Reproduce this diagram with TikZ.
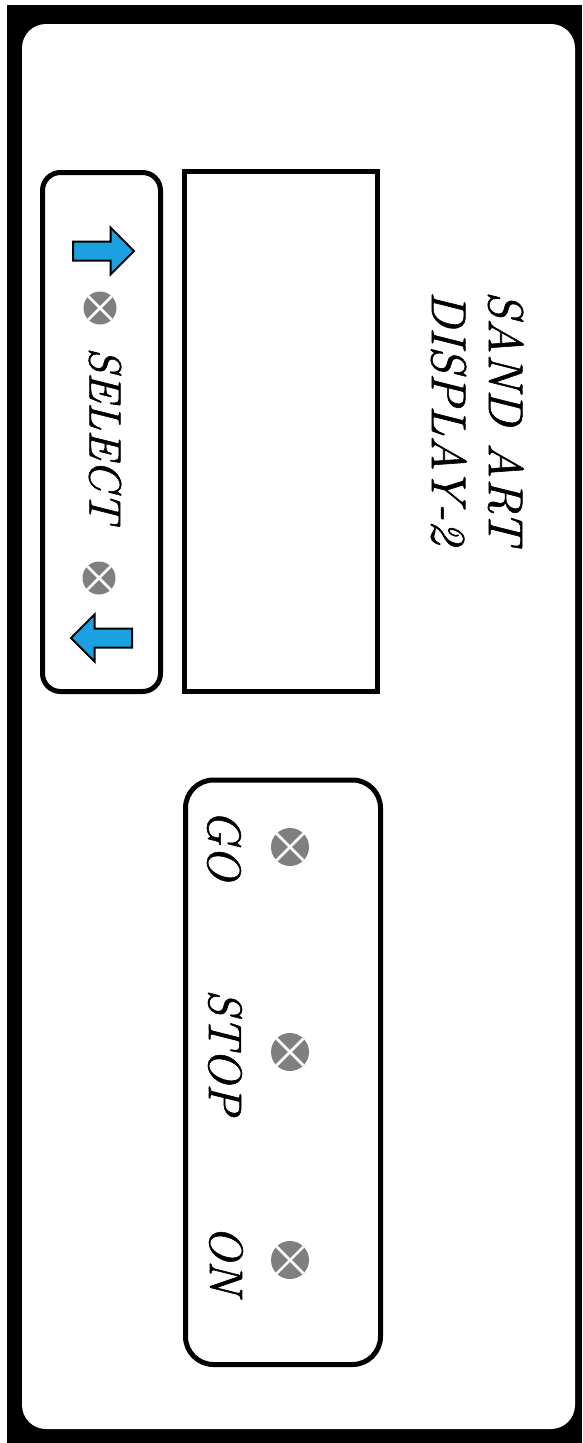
\documentclass[tikz,border=0pt]{standalone}
\usepackage{fontspec}
\usetikzlibrary{shapes.arrows}

\newfontfamily\panelfont{Latin Modern Roman}[FakeBold=1.2]
\definecolor{panelblue}{HTML}{1BA1E2}
\definecolor{ledgray}{HTML}{7F7F7F}

\begin{document}
\begin{tikzpicture}[
        x=1pt, y=-1pt,
        panelbox/.style={draw=black, line width=5pt},
        paneltext/.style={rotate=-90, inner sep=0pt},
        led/.style={circle, fill=ledgray, inner sep=0pt, minimum size=#1,
            path picture={
                \draw[white, line width=2.5pt]
                    (path picture bounding box.north west) -- (path picture bounding box.south east)
                    (path picture bounding box.north east) -- (path picture bounding box.south west);
            }},
        led/.default=33pt,
        selarrow/.style={single arrow, draw=black, line width=2pt, fill=panelblue,
            inner xsep=0pt, inner ysep=8.5pt, single arrow head extend=14pt,
            minimum height=61pt, anchor=tail},
        ]
        \useasboundingbox (0,0) rectangle (582,1443);
        \fill[white] (0,0) rectangle (582,1443);

        % Frame
        \fill[black] (7,5) rectangle (582,1443);
        \fill[white, rounded corners=24pt] (22,24) rectangle (575,1429);

        % Select panel
        \draw[panelbox, rounded corners=18pt] (42.5,172.5) rectangle (160.5,691.5);
        \node[selarrow] (upArrow) at (72,251) {};
        \node[selarrow, shape border rotate=180] (downArrow) at (133,638) {};
        \node[led] (selUpLed) at (100,308) {};
        \node[led] (selDownLed) at (99,578) {};
        \node[paneltext, font=\fontsize{45}{50}\selectfont\panelfont\itshape] (selectText) at (105,435) {SELECT};

        % Display window
        \draw[panelbox] (184.5,171.5) rectangle (377.5,691.5);

        % Title
        \node[paneltext, anchor=north west, align=left,
            font=\fontsize{49}{57}\selectfont\panelfont\itshape] (title) at (524,291) {SAND ART\\DISPLAY-2};

        % Control panel
        \draw[panelbox, rounded corners=28pt] (185.5,780) rectangle (380.5,1364.5);
        \node[paneltext, font=\fontsize{47}{52}\selectfont\panelfont\itshape] (goText) at (224,845) {GO};
        \node[paneltext, font=\fontsize{47}{52}\selectfont\panelfont\itshape] (stopText) at (225,1052) {STOP};
        \node[paneltext, font=\fontsize{47}{52}\selectfont\panelfont\itshape] (onText) at (226,1260) {ON};
        \node[led=38pt] (goLed) at (290,847) {};
        \node[led=38pt] (stopLed) at (290,1052) {};
        \node[led=38pt] (onLed) at (290,1260) {};

    \end{tikzpicture}
\end{document}
